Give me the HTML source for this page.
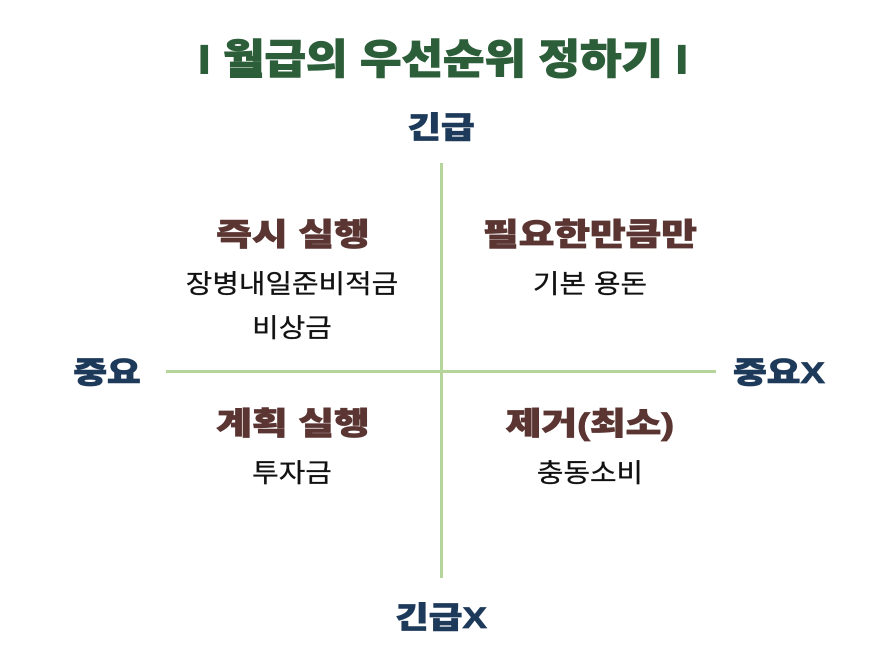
<!DOCTYPE html>
<html><head><meta charset="utf-8"><style>
html,body{margin:0;padding:0;background:#fff;}
body{width:886px;height:662px;position:relative;overflow:hidden;font-family:"Liberation Sans","Noto Sans CJK KR",sans-serif;}
.t{position:absolute;white-space:nowrap;line-height:1;}
.title{color:#2d5e3a;font-size:41px;font-weight:900;transform:translate(-50%,-50%) scaleX(1.1);-webkit-text-stroke:1px #2d5e3a;}
.ax{color:#1e3a5a;font-size:30px;font-weight:900;transform:translate(-50%,-50%) scaleX(1.22);-webkit-text-stroke:0.8px #1e3a5a;}
.q{color:#5b3532;font-size:31px;font-weight:900;transform:translate(-50%,-50%) scaleX(1.25);-webkit-text-stroke:0.8px #5b3532;}
.s{color:#111;font-size:26px;font-weight:400;transform:translate(-50%,-50%) scaleX(1.11);-webkit-text-stroke:0.3px #111;}
.line{position:absolute;background:#b5d59a;}
</style></head><body>
<div class="t title" style="left:443px;top:60px;">I 월급의 우선순위 정하기 I</div>
<div class="t ax" style="left:441px;top:129px;">긴급</div>
<div class="t ax" style="left:441px;top:619px;">긴급X</div>
<div class="t ax" style="left:107px;top:374px;">중요</div>
<div class="t ax" style="left:779px;top:374px;">중요X</div>
<div class="line" style="left:440px;top:163px;width:3px;height:415px;"></div>
<div class="line" style="left:166px;top:370px;width:550px;height:3px;"></div>
<div class="t q" style="left:293px;top:235px;">즉시 실행</div>
<div class="t s" style="left:292px;top:284px;">장병내일준비적금</div>
<div class="t s" style="left:292px;top:328px;">비상금</div>
<div class="t q" style="left:590px;top:235px;">필요한만큼만</div>
<div class="t s" style="left:590px;top:284px;">기본 용돈</div>
<div class="t q" style="left:293px;top:424px;">계획 실행</div>
<div class="t s" style="left:292px;top:473px;">투자금</div>
<div class="t q" style="left:590px;top:424px;">제거(최소)</div>
<div class="t s" style="left:590px;top:473px;">충동소비</div>
</body></html>
